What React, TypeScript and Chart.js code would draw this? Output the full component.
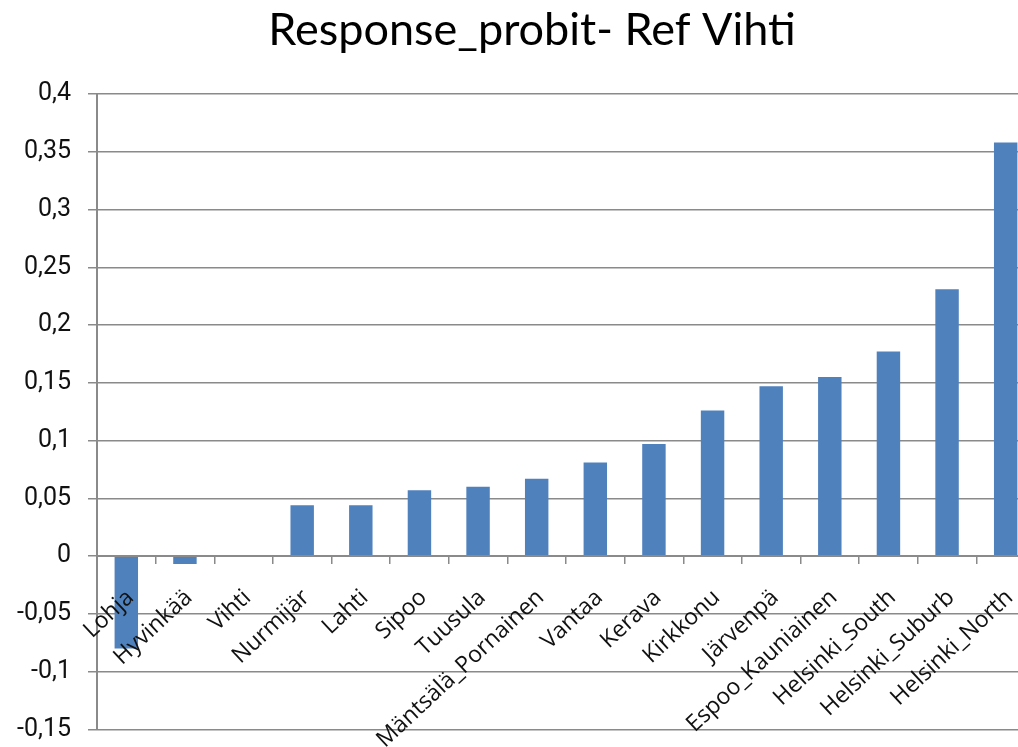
import React, { useEffect, useRef } from "react";
import { Chart, registerables } from "chart.js";

Chart.register(...registerables);

// Municipalities / regions, ordered by estimated response
const categories: string[] = [
  "Lohja",
  "Hyvinkää",
  "Vihti",
  "Nurmijär",
  "Lahti",
  "Sipoo",
  "Tuusula",
  "Mäntsälä_Pornainen",
  "Vantaa",
  "Kerava",
  "Kirkkonu",
  "Järvenpä",
  "Espoo_Kauniainen",
  "Helsinki_South",
  "Helsinki_Suburb",
  "Helsinki_North",
];

// Probit coefficients relative to the reference area (Vihti)
const coefficients: number[] = [
  -0.08, -0.007, 0, 0.044, 0.044, 0.057, 0.06, 0.067, 0.081, 0.097, 0.126,
  0.147, 0.155, 0.177, 0.231, 0.358,
];

const yMin = -0.15;
const yMax = 0.4;
const yStep = 0.05;

const chartTitle = "Response_probit- Ref Vihti";

const BAR_COLOR = "#4F81BD";
const LINE_COLOR = "#8a8a8a";

const formatTick = (v: number): string =>
  String(Number(v.toFixed(2))).replace(".", ",");

export default function App() {
  const canvasRef = useRef<HTMLCanvasElement | null>(null);

  useEffect(() => {
    if (!canvasRef.current) return;
    const chart = new Chart(canvasRef.current, {
      type: "bar",
      data: {
        labels: categories,
        datasets: [
          {
            data: coefficients,
            backgroundColor: BAR_COLOR,
            borderWidth: 0,
            categoryPercentage: 1,
            barPercentage: 0.4,
          },
        ],
      },
      options: {
        responsive: false,
        animation: false,
        layout: { padding: { left: 0, right: 0, top: 0, bottom: 17.7 } },
        plugins: {
          legend: { display: false },
          tooltip: { enabled: false },
          title: {
            display: true,
            text: chartTitle,
            color: "#000",
            font: { family: "Lato", size: 45, weight: "normal", lineHeight: 1.2 },
            padding: { top: 3, bottom: 37 },
          },
        },
        scales: {
          x: {
            type: "category",
            position: { y: 0 },
            offset: true,
            grid: {
              display: true,
              drawOnChartArea: false,
              drawTicks: true,
              tickLength: 7,
              offset: true,
              color: LINE_COLOR,
              lineWidth: 1.5,
              z: 1,
            },
            border: { display: true, color: LINE_COLOR, width: 2, z: 1 },
            ticks: {
              autoSkip: false,
              minRotation: 43,
              maxRotation: 43,
              padding: 21,
              labelOffset: 4,
              z: 1,
              color: "#111",
              font: { family: "Open Sans", size: 23 },
            },
          },
          y: {
            min: yMin,
            max: yMax,
            afterFit: (scale: any) => {
              scale.width = 97;
              scale.paddingBottom = 10;
              scale.paddingTop = 10;
              // keeps the plot's right edge inside the wider canvas
              scale.paddingRight = 29;
            },
            grid: {
              color: LINE_COLOR,
              lineWidth: 1.5,
              tickLength: 9,
            },
            border: { display: true, color: LINE_COLOR, width: 2 },
            ticks: {
              stepSize: yStep,
              padding: 17,
              color: "#111",
              font: { family: "Roboto", size: 25 },
              callback: (v: any) => formatTick(Number(v)),
            },
          },
        },
      },
    });
    return () => chart.destroy();
  }, []);

  return (
    <div
      style={{
        position: "absolute",
        left: 0,
        top: 0,
        width: 1018,
        height: 747,
        overflow: "hidden",
        background: "#fff",
      }}
    >
      <canvas ref={canvasRef} width={1064} height={747} />
    </div>
  );
}
